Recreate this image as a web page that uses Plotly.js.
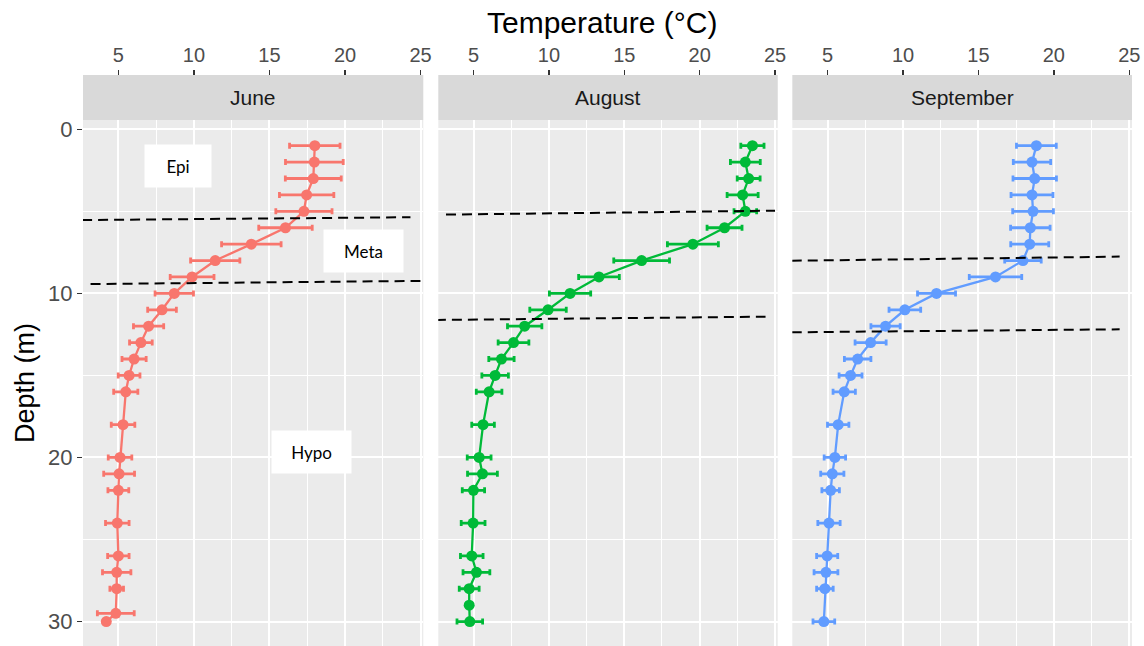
<!DOCTYPE html>
<html>
<head>
<meta charset="utf-8">
<script src="https://cdn.plot.ly/plotly-3.0.1.min.js"></script>
<style>html,body{margin:0;padding:0;background:#fff;}#chart{width:1144px;height:646px;}</style>
</head>
<body>
<div id="chart"></div>
<script>
// ---------- data ----------
const months = ["June", "August", "September"];
const monthColors = ["#F8766D", "#00BA38", "#619CFF"];

const juneDepth = [1,2,3,4,5,6,7,8,9,10,11,12,13,14,15,16,18,20,21,22,24,26,27,28,29.5,30];
const juneTemp  = [18.0,17.97,17.9,17.46,17.28,16.06,13.8,11.41,9.88,8.7,7.89,7.0,6.49,6.04,5.71,5.49,5.31,5.11,5.05,5.0,4.93,5.0,4.89,4.89,4.83,4.2];
const juneSD    = [1.67,1.91,1.85,1.8,1.86,1.77,1.97,1.63,1.45,1.27,0.95,1.0,0.75,0.8,0.72,0.8,0.78,0.78,1.02,0.69,0.78,0.71,0.94,0.45,1.22,0];

const augDepth = [1,2,3,4,5,6,7,8,9,10,11,12,13,14,15,16,18,20,21,22,24,26,27,28,29,30];
const augTemp  = [23.5,23.03,23.25,22.85,23.03,21.65,19.55,16.15,13.32,11.4,9.94,8.39,7.65,6.85,6.43,6.03,5.63,5.37,5.59,4.99,4.97,4.88,5.19,4.71,4.71,4.75];
const augSD    = [0.77,0.99,0.76,1.03,0.75,1.16,1.69,1.85,1.35,1.37,1.21,1.14,1.02,0.84,0.88,0.85,0.75,0.79,0.99,0.74,0.79,0.75,0.89,0.66,0,0.85];

const sepDepth = [1,2,3,4,5,6,7,8,9,10,11,12,13,14,15,16,18,20,21,22,24,26,27,28,30];
const sepTemp  = [18.84,18.55,18.73,18.55,18.62,18.44,18.4,17.95,16.13,12.22,10.12,8.84,7.85,6.99,6.52,6.1,5.7,5.48,5.31,5.2,5.09,4.97,4.89,4.82,4.75];
const sepSD    = [1.32,1.24,1.44,1.39,1.35,1.31,1.26,1.21,1.74,1.26,1.05,0.97,1.03,0.88,0.76,0.74,0.71,0.71,0.77,0.58,0.74,0.7,0.79,0.55,0.72];

// thermocline boundary lines (hand drawn, slightly sloped): [temp0, depth0, temp1, depth1]
const juneLayerLines = [[2.6, 5.53, 24.33, 5.36], [3.16, 9.43, 24.99, 9.24]];
const augLayerLines  = [[3.17, 5.2, 25.0, 4.96], [2.5, 11.62, 24.37, 11.42]];
const sepLayerLines  = [[2.62, 8.01, 24.36, 7.76], [2.62, 12.37, 24.36, 12.19]];

// layer labels (June panel): text, temp, depth
const layerLabels = ["Epi", "Meta", "Hypo"];
const layerLabelTemp = [8.92, 21.22, 17.78];
const layerLabelDepth = [2.25, 7.39, 19.68];

const xTickVals = [5, 10, 15, 20, 25];
const yTickVals = [0, 10, 20, 30];

// ---------- figure ----------
const depths = [juneDepth, augDepth, sepDepth];
const temps = [juneTemp, augTemp, sepTemp];
const sds = [juneSD, augSD, sepSD];
const lines = [juneLayerLines, augLayerLines, sepLayerLines];

const domains = [[0, 0.3244], [0.3387, 0.6623], [0.6762, 1]];
const yTop = 0.9212;
const xRange = [2.66, 25.18];
const yRange = [31.49, -0.567];
const font = "Liberation Sans, Arial, sans-serif";

const traces = [];
const layout = {
  width: 1144, height: 646,
  margin: {l: 83, r: 12, t: 75, b: 0, pad: 0},
  paper_bgcolor: "#FFFFFF",
  plot_bgcolor: "#EBEBEB",
  showlegend: false,
  font: {family: font, color: "#4D4D4D"},
  shapes: [],
  annotations: []
};

for (let i = 0; i < 3; i++) {
  const xa = i === 0 ? "x" : "x" + (i + 1);
  const ya = i === 0 ? "y" : "y" + (i + 1);
  traces.push({
    type: "scatter", mode: "lines+markers",
    x: temps[i], y: depths[i], xaxis: xa, yaxis: ya,
    line: {color: monthColors[i], width: 2.3},
    marker: {color: monthColors[i], size: 11},
    error_x: {type: "data", array: sds[i], visible: true, color: monthColors[i], thickness: 2.8, width: 3},
    hoverinfo: "x+y"
  });
  const xKey = i === 0 ? "xaxis" : "xaxis" + (i + 1);
  const yKey = i === 0 ? "yaxis" : "yaxis" + (i + 1);
  layout[xKey] = {
    domain: domains[i], range: xRange, anchor: "free", position: 1, side: "top",
    tickmode: "array", tickvals: xTickVals, ticktext: xTickVals.map(String),
    ticks: "outside", ticklen: 5, tickwidth: 1.5, tickcolor: "#333333",
    tickfont: {family: font, size: 20, color: "#4D4D4D"},
    showgrid: true, gridcolor: "#FFFFFF", gridwidth: 2,
    minor: {tickmode: "array", tickvals: [7.5, 12.5, 17.5, 22.5], showgrid: true, gridcolor: "#FFFFFF", gridwidth: 1, ticks: ""},
    zeroline: false, showline: false, fixedrange: true
  };
  layout[yKey] = {
    domain: [0, yTop], range: yRange, anchor: xa,
    tickmode: "array", tickvals: yTickVals, ticktext: yTickVals.map(String),
    ticks: i === 0 ? "outside" : "", ticklen: 5, tickwidth: 1.5, tickcolor: "#333333",
    showticklabels: i === 0,
    tickfont: {family: font, size: 22, color: "#4D4D4D"},
    showgrid: true, gridcolor: "#FFFFFF", gridwidth: 2,
    minor: {tickmode: "array", tickvals: [5, 15, 25], showgrid: true, gridcolor: "#FFFFFF", gridwidth: 1, ticks: ""},
    zeroline: false, showline: false, fixedrange: true
  };
  // strip
  layout.shapes.push({
    type: "rect", xref: xa + " domain", yref: "paper",
    x0: 0, x1: 1, y0: yTop, y1: 1,
    fillcolor: "#D9D9D9", line: {width: 0}, layer: "above"
  });
  layout.annotations.push({
    xref: xa + " domain", yref: "paper", x: 0.5, y: (yTop + 1) / 2,
    xanchor: "center", yanchor: "middle",
    text: months[i], showarrow: false,
    font: {family: font, size: 21, color: "#1A1A1A"}
  });
  // dashed layer boundaries
  lines[i].forEach(function (l) {
    layout.shapes.push({
      type: "line", xref: xa, yref: ya,
      x0: l[0], y0: l[1], x1: l[2], y1: l[3],
      line: {color: "#000000", width: 2, dash: "10px,6px"}, layer: "above"
    });
  });
}

// layer labels
for (let k = 0; k < layerLabels.length; k++) {
  layout.annotations.push({
    xref: "x", yref: "y", x: layerLabelTemp[k], y: layerLabelDepth[k],
    xanchor: "center", yanchor: "middle",
    text: layerLabels[k], showarrow: false,
    bgcolor: "#FFFFFF", borderpad: 0, width: k === 0 ? 66 : 79, height: 42,
    font: {family: "Lato, Open Sans, sans-serif", size: 17, color: "#000000"}
  });
}

// axis titles
layout.annotations.push({
  xref: "paper", yref: "paper", x: 0.5, y: 1, yshift: 53, xshift: -6,
  xanchor: "center", yanchor: "middle",
  text: "Temperature (°C)", showarrow: false,
  font: {family: font, size: 30, color: "#000000"}
});
layout.annotations.push({
  xref: "paper", yref: "paper", x: 0, xshift: -58, y: yTop / 2,
  xanchor: "center", yanchor: "middle", textangle: -90,
  text: "Depth (m)", showarrow: false,
  font: {family: font, size: 27, color: "#000000"}
});

Plotly.newPlot("chart", traces, layout, {displayModeBar: false, staticPlot: true});
</script>
</body>
</html>
